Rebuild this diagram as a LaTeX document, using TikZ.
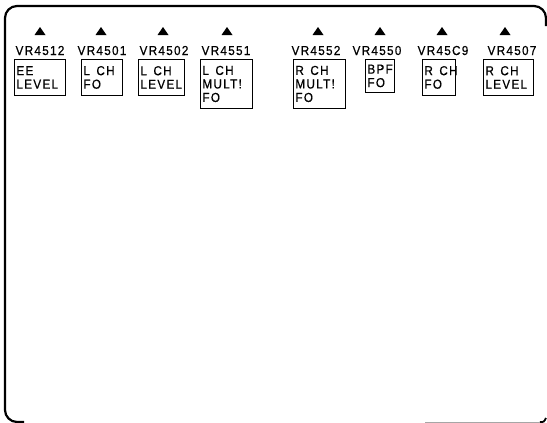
\documentclass[tikz,border=0pt]{standalone}
\usepackage{fontspec}
\setmainfont{Liberation Sans}[LetterSpace=10, FakeStretch=0.9, FakeBold=0.6]
\begin{document}
\begin{tikzpicture}[x=1pt,y=-1pt,
  lbl/.style={font=\fontsize{13}{13}\selectfont, anchor=base, inner sep=0pt},
  panel/.style={draw, line width=0.9pt, anchor=north west, align=left,
    inner sep=1.8pt, font=\fontsize{13}{13.5}\selectfont},
  tri/.style={fill=black},
  frame/.style={line width=2.2pt, rounded corners=12pt}]
\useasboundingbox (0,0) rectangle (547,423);
\begin{scope}
  \clip (0,0) rectangle (547,423);
  \draw[frame] (546,26) -- (546,6) -- (5,6) -- (5,422) -- (24,422);
  \draw[black!35, line width=1pt] (425,422) -- (540,422);
  \draw[line width=1.8pt] (540,422) .. controls (544,422) .. (546,418);
\end{scope}
% triangles
\foreach \cx in {40,101,163,227,318,380,442,505}
  \fill[tri] (\cx-5.5,35) -- (\cx+5.5,35) -- (\cx,27) -- cycle;
% labels
\node[lbl] (l1) at (40,55) {VR4512};
\node[lbl] (l2) at (102,55) {VR4501};
\node[lbl] (l3) at (164,55) {VR4502};
\node[lbl] (l4) at (226,55) {VR4551};
\node[lbl] (l5) at (316,55) {VR4552};
\node[lbl] (l6) at (377,55) {VR4550};
\node[lbl] (l7) at (443,55) {VR45C9};
\node[lbl] (l8) at (512,55) {VR4507};
% boxes
\node[panel, minimum width=51pt, minimum height=36pt, text width=47pt] (b1) at (14,59) {EE\\LEVEL};
\node[panel, minimum width=41pt, minimum height=36pt, text width=37pt] (b2) at (81,59) {L\enspace CH\\FO};
\node[panel, minimum width=46pt, minimum height=36pt, text width=42pt] (b3) at (138,59) {L\enspace CH\\LEVEL};
\node[panel, minimum width=52pt, minimum height=49pt, text width=48pt] (b4) at (200,59) {L\enspace CH\\MULT!\\FO};
\node[panel, minimum width=52pt, minimum height=49pt, text width=48pt] (b5) at (293,59) {R\enspace CH\\MULT!\\FO};
\node[panel, minimum width=29pt, minimum height=33pt, text width=25pt] (b6) at (365,59) {BPF\\FO};
\node[panel, minimum width=33pt, minimum height=36pt, text width=29pt] (b7) at (422,59) {R\enspace CH\\FO};
\node[panel, minimum width=50pt, minimum height=36pt, text width=46pt] (b8) at (483,59) {R\enspace CH\\LEVEL};
\end{tikzpicture}
\end{document}
